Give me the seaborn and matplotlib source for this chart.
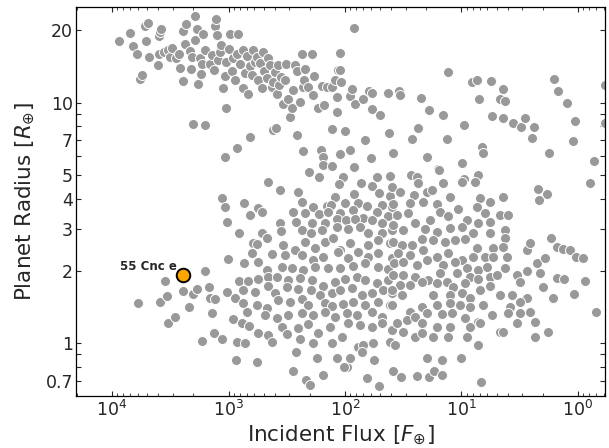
import numpy as np
import matplotlib
matplotlib.use("Agg")
import matplotlib.pyplot as plt
from matplotlib.ticker import NullFormatter, FixedLocator
import pandas as pd
import seaborn as sns

# Values are log10 of incident flux (F_earth) and log10 of planet radius (R_earth)

# Hot / warm giant planets
giant_log_flux = [
    3.937, 3.845, 3.822, 3.788, 3.759, 3.745, 3.716, 3.694, 3.708, 3.685,
    3.602, 3.593, 3.588, 3.582, 3.593, 3.553, 3.516, 3.502, 3.487, 3.450,
    3.422, 3.416, 3.387, 3.373, 3.387, 3.364, 3.330, 3.321, 3.316, 3.287,
    3.284, 3.273, 3.258, 3.244, 3.236, 3.230, 3.216, 3.201, 3.158, 3.144,
    3.124, 3.115, 3.110, 3.101, 3.087, 3.072, 3.067, 3.044, 3.030, 3.021,
    2.992, 2.987, 2.972, 2.958, 2.944, 2.929, 2.915, 2.901, 2.878, 2.872,
    2.858, 2.844, 2.829, 2.815, 2.801, 2.786, 2.772, 2.758, 2.749, 2.729,
    2.715, 2.706, 2.695, 2.672, 2.657, 2.643, 2.629, 2.620, 2.600, 2.586,
    2.572, 2.563, 2.552, 2.529, 2.514, 2.506, 2.486, 2.471, 2.457, 2.443,
    2.428, 2.414, 2.386, 2.371, 2.363, 2.351, 2.343, 2.314, 2.285, 2.271,
    2.265, 2.228, 2.194, 2.180, 2.157, 2.114, 2.085, 2.071, 2.056,
]
giant_log_radius = [
    1.256, 1.291, 1.236, 1.202, 1.098, 1.115, 1.320, 1.330, 1.258, 1.191,
    1.157, 1.277, 1.295, 1.309, 1.205, 1.212, 1.219, 1.191, 1.229, 1.188,
    1.205, 1.143, 1.090, 1.244, 1.299, 1.327, 1.216, 1.139, 1.191, 1.260,
    1.360, 1.305, 1.080, 1.188, 1.119, 1.163, 1.285, 1.219, 1.161, 1.198,
    1.136, 1.319, 1.350, 1.281, 1.177, 1.212, 1.240, 1.060, 1.111, 1.170,
    1.222, 1.285, 1.133, 1.188, 1.097, 1.205, 1.285, 1.161, 1.219, 1.060,
    1.125, 1.194, 1.035, 1.154, 1.115, 1.219, 1.170, 1.191, 1.094, 1.166,
    1.062, 1.212, 1.133, 1.105, 1.188, 1.157, 1.064, 1.087, 1.129, 1.035,
    1.157, 1.073, 1.108, 0.997, 1.094, 1.163, 1.018, 0.942, 0.977, 1.053,
    1.157, 1.132, 1.004, 1.205, 1.064, 1.097, 1.139, 1.064, 1.205, 1.032,
    1.111, 0.977, 1.069, 0.990, 1.064, 1.064, 1.094, 1.025, 1.136,
]

# Cooler giant planets
cool_giant_log_flux = [
    2.040, 2.047, 2.034, 2.067, 1.953, 1.923, 1.943, 1.916, 1.846, 1.792,
    1.765, 1.772, 1.698, 1.634, 1.537, 1.530, 1.346, 1.282, 1.158, 1.117,
    0.909, 0.869, 0.852, 0.748, 0.742, 0.641, 0.668, 0.624, 0.641, 0.560,
    0.487, 0.456, 0.376, 0.208, 0.175, 0.094, 0.027, -0.235, -0.235,
]
cool_giant_log_radius = [
    1.136, 1.209, 1.086, 0.963, 1.028, 1.310, 1.058, 0.996, 1.018, 1.049,
    1.040, 0.976, 0.949, 1.043, 1.049, 1.032, 1.021, 0.972, 0.950, 1.129,
    1.085, 1.096, 1.017, 1.090, 0.946, 1.057, 1.017, 1.007, 0.939, 0.916,
    0.900, 0.939, 0.900, 1.101, 1.049, 1.000, 0.924, 1.073, 0.917,
]

# Intermediate sizes (sub-Saturns)
mid_log_flux = [
    3.301, 3.201, 3.021, 2.815, 2.615, 2.595, 2.414, 2.114,
    3.027, 2.930, 2.359, 2.305, 2.221, 2.205, 2.188, 2.188, 2.114, 2.040,
    1.960, 2.020, 1.923, 1.829, 1.779, 1.728, 1.617, 1.587, 1.436, 1.383,
    1.292, 1.201, 1.191, 0.993, 0.980, 0.859, 0.252, -0.141, -0.101, 0.041,
    0.398, 0.826, 0.815, 0.982, 1.121, 1.370, 1.428, 1.618, 1.997,
]
mid_log_radius = [
    0.914, 0.907, 0.977, 0.856, 0.887, 0.896, 0.866, 0.893,
    0.773, 0.814, 0.801, 0.713, 0.693, 0.803, 0.776, 0.741, 0.738, 0.787,
    0.802, 0.693, 0.734, 0.845, 0.769, 0.693, 0.695, 0.790, 0.700, 0.693,
    0.776, 0.727, 0.720, 0.751, 0.683, 0.698, 0.790, 0.758, 0.668, 0.840,
    0.855, 0.817, 0.792, 0.907, 0.848, 0.897, 0.848, 0.875, 0.882,
]

# Small planets, highly irradiated side
hot_small_log_flux = [
    3.775, 3.587, 3.544, 3.527, 3.523, 3.460, 3.389, 3.336, 3.302, 3.272,
    3.201, 3.225, 3.164, 3.158, 3.114, 3.144, 3.124, 3.057, 3.057, 3.030,
    3.017, 2.930, 2.940, 2.752,
]
hot_small_log_radius = [
    0.166, 0.170, 0.260, 0.198, 0.083, 0.111, 0.216, 0.152, 0.204, 0.227,
    0.302, 0.011, 0.236, 0.187, 0.183, 0.125, 0.042, 0.017, 0.603, 0.568,
    0.506, 0.007, -0.069, -0.076,
]

# Small planets, main population (hotter half)
small_a_log_flux = [
    2.658, 2.558, 2.400, 2.048, 1.865, 1.771, 1.705, 1.613, 1.599, 1.920,
    2.086, 2.864, 2.366, 2.272, 2.157, 2.120, 2.000, 1.885, 1.814, 1.685,
    1.599, 2.815, 2.744, 2.709, 2.443, 2.343, 2.220, 2.143, 2.043, 1.928,
    1.842, 1.728, 1.628, 2.558, 2.423, 2.286, 2.171, 2.071, 1.994, 1.914,
    1.771, 1.685, 2.910, 2.715, 2.672, 2.549, 2.372, 2.292, 2.200, 2.071,
    1.971, 1.871, 1.799, 1.685, 1.599, 2.787, 2.758, 2.529, 2.429, 2.343,
    2.257, 2.171, 2.100, 2.043, 1.957, 1.885, 1.799, 1.713, 1.613, 2.795,
    2.629, 2.515, 2.372, 2.272, 2.186, 2.057, 1.971, 1.799, 1.713, 1.599,
    3.001, 2.864, 2.750, 2.543, 2.458, 2.357, 2.257, 2.143, 2.043, 1.928,
    1.828, 1.713, 1.628, 2.672, 2.910, 2.830, 2.744, 2.658, 2.586, 2.486,
    2.386, 2.286, 2.186, 2.086, 2.000, 1.900, 1.828, 1.728, 1.628, 3.016,
    2.873, 2.772, 2.658, 2.601, 2.501, 2.400, 2.292, 2.214, 2.114, 2.043,
    1.942, 1.857, 1.771, 1.671, 1.599, 2.944, 2.873, 2.758, 2.672, 2.572,
    2.472, 2.372, 2.314, 2.171, 2.114, 2.014, 1.928, 1.828, 1.713, 1.613,
    2.844, 2.687, 2.586, 2.486, 2.372, 2.272, 2.171, 2.086, 1.985, 1.900,
    1.771, 1.685, 2.958, 2.887, 2.824, 2.744, 2.658, 2.543, 2.501, 2.400,
    2.314, 2.229, 2.128, 2.028, 1.971, 1.871, 1.771, 1.685, 1.599, 2.858,
    2.629, 2.386, 2.272, 2.114, 1.885, 1.842, 1.756, 1.613,
]
small_a_log_radius = [
    0.672, 0.637, 0.631, 0.662, 0.665, 0.654, 0.626, 0.613, 0.651, 0.621,
    0.610, 0.585, 0.589, 0.568, 0.571, 0.575, 0.582, 0.585, 0.571, 0.575,
    0.568, 0.534, 0.561, 0.547, 0.547, 0.540, 0.538, 0.547, 0.540, 0.554,
    0.520, 0.547, 0.529, 0.502, 0.506, 0.499, 0.499, 0.516, 0.513, 0.516,
    0.513, 0.499, 0.457, 0.460, 0.437, 0.468, 0.471, 0.457, 0.471, 0.485,
    0.474, 0.485, 0.460, 0.457, 0.471, 0.416, 0.413, 0.409, 0.388, 0.423,
    0.395, 0.423, 0.437, 0.388, 0.416, 0.381, 0.409, 0.430, 0.416, 0.377,
    0.371, 0.367, 0.367, 0.347, 0.358, 0.381, 0.354, 0.358, 0.374, 0.354,
    0.349, 0.336, 0.340, 0.319, 0.312, 0.305, 0.319, 0.312, 0.312, 0.322,
    0.333, 0.316, 0.308, 0.305, 0.261, 0.261, 0.266, 0.277, 0.277, 0.263,
    0.270, 0.263, 0.239, 0.257, 0.266, 0.277, 0.263, 0.252, 0.263, 0.215,
    0.222, 0.215, 0.239, 0.208, 0.236, 0.225, 0.222, 0.201, 0.211, 0.222,
    0.229, 0.201, 0.208, 0.222, 0.208, 0.187, 0.166, 0.160, 0.146, 0.180,
    0.173, 0.183, 0.160, 0.166, 0.155, 0.163, 0.173, 0.160, 0.173, 0.160,
    0.132, 0.118, 0.104, 0.118, 0.128, 0.118, 0.132, 0.111, 0.125, 0.118,
    0.132, 0.111, 0.100, 0.083, 0.072, 0.045, 0.035, 0.069, 0.039, 0.063,
    0.081, 0.045, 0.069, 0.028, 0.086, 0.077, 0.069, 0.083, 0.056, 0.000,
    0.007, 0.017, 0.000, 0.000, -0.014, -0.007, 0.000, 0.007,
]

# Small planets, main population (cooler half)
small_b_log_flux = [
    1.371, 1.156, 0.999, 0.884, 1.528, 1.408, 1.299, 1.256, 1.099, 0.841,
    0.755, 0.641, 0.340, 0.269, 0.332, 1.585, 1.442, 1.328, 1.213, 1.027,
    0.870, 0.798, 0.670, 0.598, 1.557, 1.457, 1.271, 1.185, 1.113, 0.956,
    0.856, 0.755, 0.627, 1.585, 1.499, 1.399, 1.313, 1.213, 1.099, 0.999,
    0.898, 0.755, 0.627, 0.441, 0.412, 0.234, 0.183, 1.585, 1.514, 1.428,
    1.342, 1.242, 1.142, 1.056, 0.970, 0.870, 0.727, 0.641, 1.542, 1.442,
    1.328, 1.213, 1.113, 0.999, 0.898, 0.798, 0.727, 0.612, 0.355, 0.283,
    1.580, 1.499, 1.385, 1.299, 1.156, 1.056, 0.956, 0.856, 0.784, 0.627,
    0.441, 0.326, 0.183, 1.585, 1.499, 1.399, 1.285, 1.185, 1.042, 0.927,
    0.856, 0.755, 0.698, 0.526, 0.498, 1.528, 1.442, 1.342, 1.213, 1.127,
    1.070, 0.970, 0.841, 0.755, 0.670, 0.569, 0.441, 0.297, 0.212, 1.600,
    1.514, 1.242, 1.099, 0.999, 0.927, 1.600, 1.342, 1.213, 1.099, 1.013,
    0.927, 0.813, 0.584, 0.498, 1.442, 1.299, 1.170, 1.085, 0.970, 0.856,
    0.741, 0.598, 0.498, 0.412, 1.557, 1.471, 1.399, 1.342, 1.213, 1.099,
    0.927, 0.841, 0.670, 0.641, 0.526, 0.369, 0.255, 1.499, 1.399, 1.342,
    1.242, 1.113, 0.956, 0.369, 1.571, 0.856,
]
small_b_log_radius = [
    0.668, 0.665, 0.672, 0.672, 0.630, 0.616, 0.630, 0.637, 0.609, 0.603,
    0.589, 0.609, 0.640, 0.621, 0.598, 0.579, 0.582, 0.589, 0.579, 0.557,
    0.568, 0.540, 0.533, 0.533, 0.533, 0.540, 0.513, 0.547, 0.529, 0.513,
    0.499, 0.506, 0.471, 0.492, 0.471, 0.499, 0.474, 0.464, 0.478, 0.485,
    0.457, 0.457, 0.437, 0.388, 0.416, 0.440, 0.402, 0.423, 0.409, 0.409,
    0.432, 0.430, 0.423, 0.430, 0.432, 0.395, 0.395, 0.402, 0.374, 0.367,
    0.388, 0.360, 0.374, 0.347, 0.358, 0.358, 0.360, 0.360, 0.335, 0.354,
    0.333, 0.340, 0.326, 0.347, 0.326, 0.340, 0.312, 0.307, 0.316, 0.312,
    0.302, 0.291, 0.270, 0.284, 0.284, 0.277, 0.263, 0.291, 0.291, 0.277,
    0.266, 0.277, 0.284, 0.284, 0.257, 0.242, 0.242, 0.257, 0.250, 0.257,
    0.236, 0.250, 0.222, 0.239, 0.201, 0.201, 0.187, 0.236, 0.187, 0.222,
    0.201, 0.201, 0.201, 0.208, 0.187, 0.160, 0.152, 0.160, 0.166, 0.160,
    0.152, 0.160, 0.152, 0.173, 0.132, 0.125, 0.121, 0.125, 0.104, 0.090,
    0.118, 0.125, 0.125, 0.132, 0.083, 0.097, 0.111, 0.083, 0.069, 0.069,
    0.069, 0.083, 0.049, 0.049, 0.083, 0.090, 0.049, 0.049, 0.028, 0.042,
    0.028, 0.028, 0.028, 0.025, -0.007, -0.007,
]

# Smallest planets (below ~1 R_earth)
tiny_log_flux = [
    2.443, 2.336, 2.299, 2.185, 2.419, 2.242, 2.070, 1.983, 2.007, 1.953,
    1.852, 1.748, 1.809, 1.705, 1.587, 1.517, 1.386, 1.282, 1.238, 1.171,
    1.295, 1.164, 1.003, 0.829,
]
tiny_log_radius = [
    -0.114, -0.152, -0.173, -0.132, -0.035, -0.062, -0.060, -0.098, -0.097, -0.060,
    -0.036, -0.071, -0.145, -0.176, -0.114, -0.141, -0.134, -0.141, -0.114, -0.132,
    -0.060, -0.071, -0.060, -0.162,
]

# Temperate small planets
temperate_log_flux = [0.128, 0.070, 0.020, -0.047, 0.124, -0.064, 0.034, -0.158]
temperate_log_radius = [0.392, 0.389, 0.360, 0.356, 0.266, 0.259, 0.206, 0.129]

# Highlighted planet
highlight_name = "55 Cnc e"
highlight_flux = 2440.0
highlight_radius = 1.92

populations = [
    (giant_log_flux, giant_log_radius),
    (cool_giant_log_flux, cool_giant_log_radius),
    (mid_log_flux, mid_log_radius),
    (hot_small_log_flux, hot_small_log_radius),
    (small_a_log_flux, small_a_log_radius),
    (small_b_log_flux, small_b_log_radius),
    (tiny_log_flux, tiny_log_radius),
    (temperate_log_flux, temperate_log_radius),
]
planets = pd.concat(
    [pd.DataFrame({"flux": 10 ** np.asarray(lf), "radius": 10 ** np.asarray(lr)})
     for lf, lr in populations],
    ignore_index=True,
)

sns.set_style("ticks", {"xtick.direction": "in", "ytick.direction": "in",
                        "axes.edgecolor": "black"})
plt.rcParams["font.family"] = ["DejaVu Sans"]
plt.rcParams["mathtext.fontset"] = "dejavusans"

fig = plt.figure(figsize=(6.09, 4.48), dpi=100)
ax = fig.add_axes([0.1256, 0.116, 0.8678, 0.869])

sns.scatterplot(data=planets, x="flux", y="radius", ax=ax, color="#999999",
                edgecolor="white", linewidth=0.7, s=52, legend=False, zorder=2)
sns.scatterplot(x=[highlight_flux], y=[highlight_radius], ax=ax, color="orange",
                edgecolor="black", linewidth=1.4, s=95, legend=False, zorder=4)
ax.annotate(highlight_name, (highlight_flux, highlight_radius),
            xytext=(-5, 6), textcoords="offset points", ha="right", va="center",
            fontsize=8.5, fontweight="bold", zorder=5)

ax.set_xscale("log")
ax.set_yscale("log")
ax.set_xlim(2.02e4, 0.586)
ax.set_ylim(0.604, 25.1)

ax.set_xticks([1e4, 1e3, 1e2, 1e1, 1e0])
yticks = [0.7, 1, 2, 3, 4, 5, 7, 10, 20]
ax.yaxis.set_major_locator(FixedLocator(yticks))
ax.set_yticklabels(["0.7", "1", "2", "3", "4", "5", "7", "10", "20"])
ax.yaxis.set_minor_locator(FixedLocator([0.8, 0.9, 6, 8, 9]))
ax.yaxis.set_minor_formatter(NullFormatter())

ax.tick_params(which="both", direction="in", top=True, right=True)
ax.tick_params(which="major", length=3.5, width=0.8, labelsize=12.5, pad=3)
ax.tick_params(axis="x", which="minor", length=2, width=0.6)
ax.tick_params(axis="y", which="minor", length=3.5, width=0.8)
ax.tick_params(axis="y", which="major", pad=2.5)
for sp in ax.spines.values():
    sp.set_linewidth(0.9)

ax.set_xlabel(r"Incident Flux [$F_{\oplus}$]", fontsize=15.5, labelpad=2.5)
ax.set_ylabel(r"Planet Radius [$R_{\oplus}$]", fontsize=15.5, labelpad=6)

fig.savefig("out.png", dpi=100)
